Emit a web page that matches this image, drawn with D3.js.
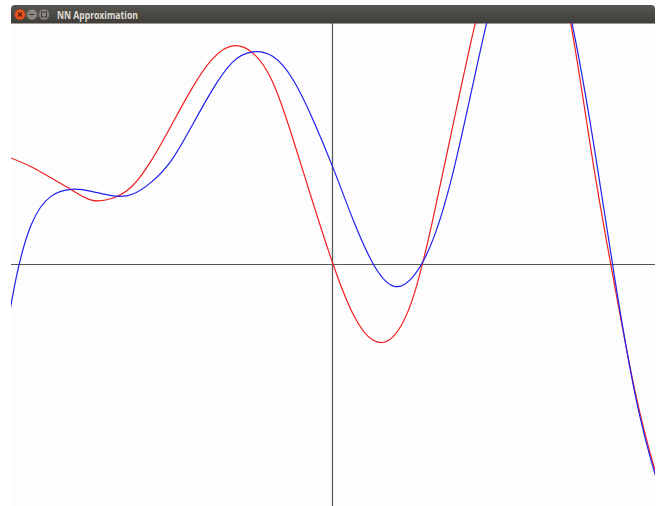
<!DOCTYPE html>
<html>
<head>
<meta charset="utf-8">
<script src="https://cdn.jsdelivr.net/npm/d3@7"></script>
<style>
  html, body { margin: 0; padding: 0; background: #ffffff; }
  svg { display: block; }
</style>
</head>
<body>
<svg id="chart" width="663" height="506"></svg>
<script>
// Window title
const windowTitle = "NN Approximation";

// Sample positions along x (shared by both curves; the outer ones fall just past the frame)
const sampleX = [-8.5, -8.0, -7.5, -7.0, -6.5, -6.0, -5.5, -5.0, -4.5, -4.0, -3.5, -3.0, -2.5, -2.0, -1.5, -1.0, -0.5,
                  0.0, 0.5, 1.0, 1.5, 2.0, 2.5, 3.0, 3.5, 4.0, 4.5, 5.0, 5.5, 6.0, 6.5, 7.0, 7.5, 8.0, 8.5];

// Target function (red)
const targetY = [2.84, 2.64, 2.42, 2.14, 1.85, 1.59, 1.63, 1.93, 2.60, 3.48, 4.38, 5.10, 5.43, 5.26, 4.53, 3.13, 1.53,
                 0.00, -1.25, -1.90, -1.80, -0.80, 1.20, 3.55, 5.85, 7.85, 9.15, 9.05, 7.85, 5.45, 2.28, -0.55, -3.15, -5.13, -6.70];

// Network output (blue)
const approxY = [-4.60, -1.02, 0.97, 1.69, 1.86, 1.81, 1.70, 1.73, 2.05, 2.60, 3.45, 4.33, 5.02, 5.28, 5.17, 4.60, 3.60,
                 2.40, 1.10, 0.00, -0.55, -0.30, 0.65, 2.35, 4.58, 6.75, 8.25, 8.64, 7.75, 5.69, 2.84, -0.36, -3.22, -5.23, -6.80];

const xDomain = [-8, 8];
const yDomain = [-6, 6];

const svg = d3.select("#chart");

// ---- window frame ----
const win = { left: 11, right: 655, top: 5, bar: 18 };
const plotTop = win.top + win.bar;
const plotBottom = 505;

const defs = svg.append("defs");
const grad = defs.append("linearGradient").attr("id", "titlebar").attr("x1", 0).attr("y1", 0).attr("x2", 0).attr("y2", 1);
grad.append("stop").attr("offset", "0%").attr("stop-color", "#57554f");
grad.append("stop").attr("offset", "100%").attr("stop-color", "#3f3e3a");

defs.append("clipPath").attr("id", "plotclip")
  .append("rect")
  .attr("x", win.left).attr("y", plotTop)
  .attr("width", win.right - win.left).attr("height", 506 - plotTop);

// plot background
svg.append("rect")
  .attr("x", win.left).attr("y", plotTop)
  .attr("width", win.right - win.left).attr("height", 506 - plotTop)
  .attr("fill", "#fdfdfd");

// title bar
svg.append("path")
  .attr("d", `M${win.left},${plotTop} V${win.top + 4} Q${win.left},${win.top} ${win.left + 4},${win.top} H${win.right - 4} Q${win.right},${win.top} ${win.right},${win.top + 4} V${plotTop} Z`)
  .attr("fill", "url(#titlebar)");
svg.append("line")
  .attr("x1", win.left).attr("x2", win.right)
  .attr("y1", plotTop + 0.5).attr("y2", plotTop + 0.5)
  .attr("stroke", "#9a9891").attr("stroke-width", 1);

// window buttons
const buttons = [
  { cx: 20, fill: "#e95420", stroke: "#b8431a" },
  { cx: 32, fill: "#8a8781", stroke: "#6c6a65" },
  { cx: 44, fill: "#8a8781", stroke: "#6c6a65" }
];
svg.selectAll("circle.btn").data(buttons).enter().append("circle")
  .attr("class", "btn")
  .attr("cx", d => d.cx).attr("cy", win.top + 9.5).attr("r", 5.2)
  .attr("fill", d => d.fill).attr("stroke", d => d.stroke).attr("stroke-width", 0.6);
// close cross
svg.append("path")
  .attr("d", "M18,12.5 L22,16.5 M22,12.5 L18,16.5")
  .attr("stroke", "#4a1a08").attr("stroke-width", 1.1);
svg.append("line").attr("x1", 29.5).attr("x2", 34.5).attr("y1", 14.5).attr("y2", 14.5)
  .attr("stroke", "#3c3b37").attr("stroke-width", 1);
svg.append("rect").attr("x", 41.5).attr("y", 12).attr("width", 5).attr("height", 5)
  .attr("fill", "none").attr("stroke", "#3c3b37").attr("stroke-width", 1);

svg.append("text")
  .attr("x", 57).attr("y", win.top + 13.5)
  .attr("font-family", "'Noto Sans', 'DejaVu Sans', sans-serif")
  .attr("font-weight", "bold")
  .attr("font-size", 10.5)
  .attr("textLength", 81)
  .attr("lengthAdjust", "spacingAndGlyphs")
  .attr("fill", "#dfdbd2")
  .text(windowTitle);

// ---- plot ----
const x = d3.scaleLinear().domain(xDomain).range([win.left, win.right]);
const y = d3.scaleLinear().domain(yDomain).range([plotBottom, plotTop]);

const plot = svg.append("g").attr("clip-path", "url(#plotclip)");

// axes through the origin
const ax = Math.round(x(0)) - 0.5;
const ay = Math.round(y(0)) + 0.5;
plot.append("line")
  .attr("x1", win.left).attr("x2", win.right)
  .attr("y1", ay).attr("y2", ay)
  .attr("stroke", "#555555").attr("stroke-width", 1.2);
plot.append("line")
  .attr("x1", ax).attr("x2", ax)
  .attr("y1", plotTop).attr("y2", 506)
  .attr("stroke", "#555555").attr("stroke-width", 1.2);

const line = d3.line()
  .x(d => x(d[0]))
  .y(d => y(d[1]))
  .curve(d3.curveNatural);

const target = d3.zip(sampleX, targetY);
const approx = d3.zip(sampleX, approxY);

plot.append("path")
  .datum(target)
  .attr("d", line)
  .attr("fill", "none")
  .attr("stroke", "#f02020")
  .attr("stroke-width", 1.2);

plot.append("path")
  .datum(approx)
  .attr("d", line)
  .attr("fill", "none")
  .attr("stroke", "#2020f0")
  .attr("stroke-width", 1.2);
</script>
</body>
</html>
